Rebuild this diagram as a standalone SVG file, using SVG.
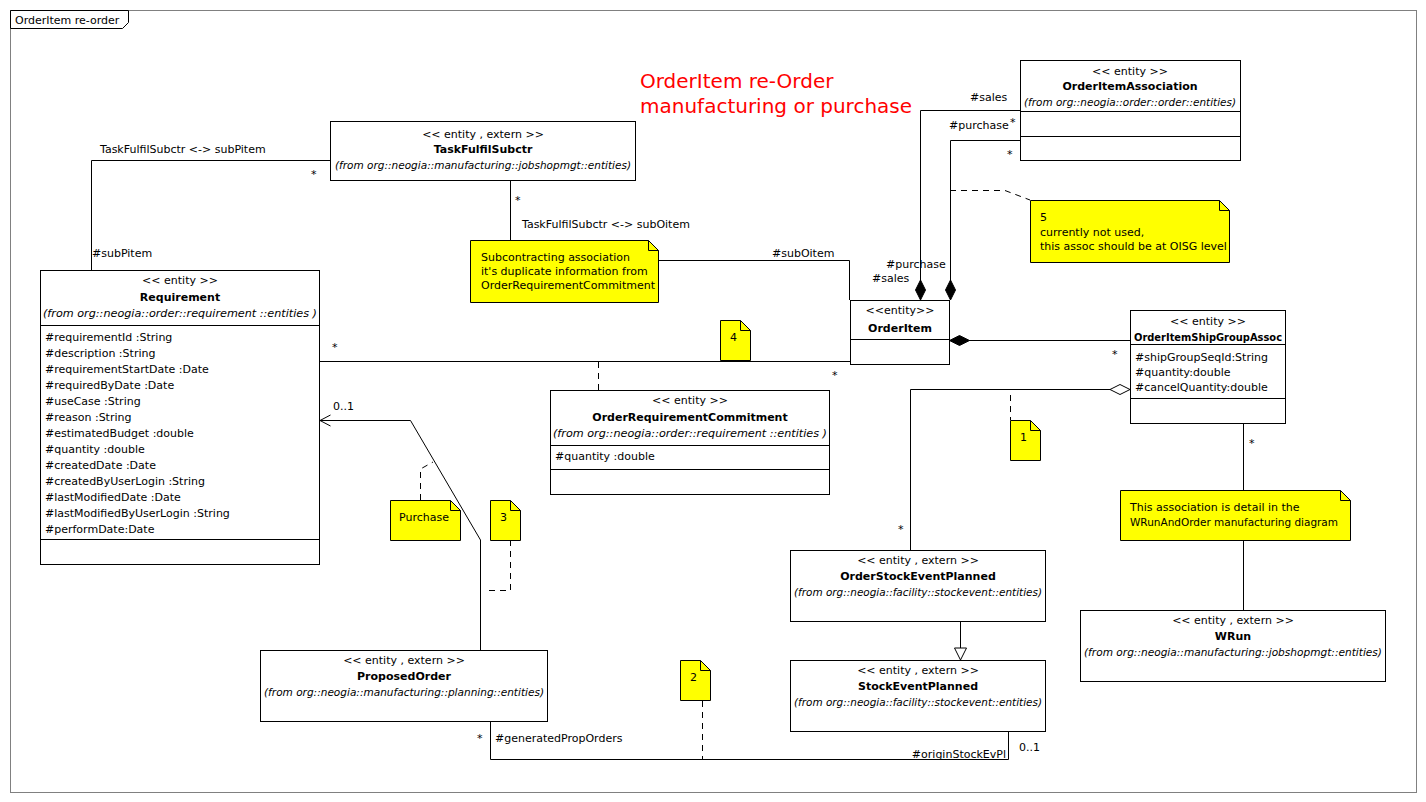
<svg xmlns="http://www.w3.org/2000/svg" width="1426" height="802" viewBox="0 0 1426 802">
<defs>
<style>
text{font-family:"DejaVu Sans","Liberation Sans",Arial,sans-serif;font-size:11px;fill:#000}
.c{text-anchor:middle}
.b{font-weight:bold}
.i{font-style:italic}
.r{text-anchor:end}
.box{fill:#fff;stroke:#000;stroke-width:1}
.note{fill:#ffff00;stroke:#000;stroke-width:1}
.ln{fill:none;stroke:#000;stroke-width:1}
.dash{fill:none;stroke:#000;stroke-width:1;stroke-dasharray:6,5}
.title{fill:#ff0000;font-size:20px}
</style>
</defs>
<rect x="0" y="0" width="1426" height="802" fill="#fff"/>
<g id="frame">
<rect x="10.5" y="10.5" width="1406" height="782" fill="none" stroke="#808080"/>
<path d="M10.5,10.5 H128.5 V22.5 L122.5,28.5 H10.5 Z" fill="#fff" stroke="#000"/>
<text x="15" y="24">OrderItem re-order</text>
</g>
<g id="title">
<text class="title" x="640" y="88">OrderItem re-Order</text>
<text class="title" x="640" y="113">manufacturing or purchase</text>
</g>
<g id="connectors">
<path class="ln" d="M91.5,270 V160.5 H330"/>
<text x="100" y="153">TaskFulfilSubctr &lt;-&gt; subPitem</text>
<text x="311" y="178">*</text>
<text x="92" y="257">#subPitem</text>
<path class="ln" d="M510.5,180 V260.5 H849.5 V300"/>
<text x="515" y="204">*</text>
<text x="522" y="228">TaskFulfilSubctr &lt;-&gt; subOitem</text>
<text x="772" y="257">#subOitem</text>
<path class="ln" d="M319,361.5 H850"/>
<text x="332" y="351">*</text>
<text x="832" y="379">*</text>
<path class="dash" d="M598.5,362 V390"/>
<path class="ln" d="M1020,110.5 H920.5 V281"/>
<path class="ln" d="M1020,140.5 H950.5 V281"/>
<polygon points="920.5,280 925.5,290 920.5,300 915.5,290" fill="#000" stroke="#000"/>
<polygon points="950.5,280 955.5,290 950.5,300 945.5,290" fill="#000" stroke="#000"/>
<text x="970" y="101">#sales</text>
<text x="949" y="129">#purchase</text>
<text x="1010" y="126">*</text>
<text x="1007" y="158">*</text>
<text x="886" y="268">#purchase</text>
<text x="872" y="282">#sales</text>
<path class="ln" d="M969,340.5 H1130"/>
<polygon points="949.5,340.5 959.5,335.5 969.5,340.5 959.5,345.5" fill="#000" stroke="#000"/>
<text x="1112" y="358">*</text>
<path class="ln" d="M1110,389.5 H910.5 V550"/>
<polygon points="1130,389.5 1120,384.5 1110,389.5 1120,394.5" fill="#fff" stroke="#000"/>
<text x="898" y="533">*</text>
<path class="dash" d="M1010.5,395 V420"/>
<path class="ln" d="M1243.5,423 V610"/>
<text x="1249" y="447">*</text>
<path class="ln" d="M960.5,621 V648"/>
<polygon points="954.5,648 966.5,648 960.5,660" fill="#fff" stroke="#000"/>
<path class="ln" d="M490.5,721 V759.5 H1008.5 V731"/>
<text x="477" y="742">*</text>
<text x="495" y="742">#generatedPropOrders</text>
<text class="r" x="1006" y="758">#originStockEvPl</text>
<text x="1019" y="751">0..1</text>
<path class="dash" d="M702.5,701 V759"/>
<path class="ln" d="M480.5,650 V540 L410.5,420.5 H320"/>
<path class="ln" d="M330.5,415 L320,420.5 L330.5,426"/>
<text x="333" y="410">0..1</text>
<path class="dash" d="M420.5,500 V469 L433,462"/>
<path class="dash" d="M510.5,540 V590.5 H485"/>
<path class="dash" d="M950,190.5 H1005 L1030,200"/>
</g>
<g id="TaskFulfilSubctr">
<rect class="box" x="330.5" y="121.5" width="305" height="59"/>
<text class="c" x="483" y="138">&lt;&lt; entity , extern &gt;&gt;</text>
<text class="c b" x="483" y="153">TaskFulfilSubctr</text>
<text class="c i" x="483" y="169" textLength="296" lengthAdjust="spacingAndGlyphs">(from org::neogia::manufacturing::jobshopmgt::entities)</text>
</g>
<g id="Requirement">
<rect class="box" x="40.5" y="270.5" width="279" height="294"/>
<line class="ln" x1="40" y1="325.5" x2="319" y2="325.5"/>
<line class="ln" x1="40" y1="539.5" x2="319" y2="539.5"/>
<text class="c" x="180" y="284">&lt;&lt; entity &gt;&gt;</text>
<text class="c b" x="180" y="301">Requirement</text>
<text class="c i" x="180" y="317" textLength="274" lengthAdjust="spacingAndGlyphs">(from org::neogia::order::requirement ::entities )</text>
<text x="45" y="341">#requirementId :String</text>
<text x="45" y="357">#description :String</text>
<text x="45" y="373">#requirementStartDate :Date</text>
<text x="45" y="389">#requiredByDate :Date</text>
<text x="45" y="405">#useCase :String</text>
<text x="45" y="421">#reason :String</text>
<text x="45" y="437">#estimatedBudget :double</text>
<text x="45" y="453">#quantity :double</text>
<text x="45" y="469">#createdDate :Date</text>
<text x="45" y="485">#createdByUserLogin :String</text>
<text x="45" y="501">#lastModifiedDate :Date</text>
<text x="45" y="517">#lastModifiedByUserLogin :String</text>
<text x="45" y="533">#performDate:Date</text>
</g>
<g id="OrderItemAssociation">
<rect class="box" x="1020.5" y="60.5" width="220" height="100"/>
<line class="ln" x1="1020" y1="111.5" x2="1240" y2="111.5"/>
<line class="ln" x1="1020" y1="136.5" x2="1240" y2="136.5"/>
<text class="c" x="1130" y="75">&lt;&lt; entity &gt;&gt;</text>
<text class="c b" x="1130" y="90">OrderItemAssociation</text>
<text class="c i" x="1130" y="106" textLength="212" lengthAdjust="spacingAndGlyphs">(from org::neogia::order::order::entities)</text>
</g>
<g id="OrderItem">
<rect class="box" x="850.5" y="300.5" width="99" height="64"/>
<line class="ln" x1="850" y1="339.5" x2="949" y2="339.5"/>
<text class="c" x="900" y="314">&lt;&lt;entity&gt;&gt;</text>
<text class="c b" x="900" y="332">OrderItem</text>
</g>
<g id="OrderItemShipGroupAssoc">
<rect class="box" x="1130.5" y="310.5" width="155" height="113"/>
<line class="ln" x1="1130" y1="344.5" x2="1285" y2="344.5"/>
<line class="ln" x1="1130" y1="398.5" x2="1285" y2="398.5"/>
<text class="c" x="1208" y="325">&lt;&lt; entity &gt;&gt;</text>
<text class="c b" x="1208" y="341" textLength="148" lengthAdjust="spacingAndGlyphs">OrderItemShipGroupAssoc</text>
<text x="1135" y="361">#shipGroupSeqId:String</text>
<text x="1135" y="376">#quantity:double</text>
<text x="1135" y="391">#cancelQuantity:double</text>
</g>
<g id="OrderRequirementCommitment">
<rect class="box" x="550.5" y="390.5" width="279" height="104"/>
<line class="ln" x1="550" y1="445.5" x2="829" y2="445.5"/>
<line class="ln" x1="550" y1="469.5" x2="829" y2="469.5"/>
<text class="c" x="690" y="404">&lt;&lt; entity &gt;&gt;</text>
<text class="c b" x="690" y="421">OrderRequirementCommitment</text>
<text class="c i" x="690" y="437" textLength="274" lengthAdjust="spacingAndGlyphs">(from org::neogia::order::requirement ::entities )</text>
<text x="555" y="460">#quantity :double</text>
</g>
<g id="OrderStockEventPlanned">
<rect class="box" x="790.5" y="550.5" width="255" height="71"/>
<text class="c" x="918" y="564">&lt;&lt; entity , extern &gt;&gt;</text>
<text class="c b" x="918" y="580">OrderStockEventPlanned</text>
<text class="c i" x="918" y="596" textLength="248" lengthAdjust="spacingAndGlyphs">(from org::neogia::facility::stockevent::entities)</text>
</g>
<g id="StockEventPlanned">
<rect class="box" x="790.5" y="660.5" width="255" height="71"/>
<text class="c" x="918" y="674">&lt;&lt; entity , extern &gt;&gt;</text>
<text class="c b" x="918" y="690">StockEventPlanned</text>
<text class="c i" x="918" y="706" textLength="248" lengthAdjust="spacingAndGlyphs">(from org::neogia::facility::stockevent::entities)</text>
</g>
<g id="WRun">
<rect class="box" x="1080.5" y="610.5" width="305" height="71"/>
<text class="c" x="1233" y="624">&lt;&lt; entity , extern &gt;&gt;</text>
<text class="c b" x="1233" y="640">WRun</text>
<text class="c i" x="1233" y="656" textLength="298" lengthAdjust="spacingAndGlyphs">(from org::neogia::manufacturing::jobshopmgt::entities)</text>
</g>
<g id="ProposedOrder">
<rect class="box" x="260.5" y="650.5" width="287" height="71"/>
<text class="c" x="404" y="664">&lt;&lt; entity , extern &gt;&gt;</text>
<text class="c b" x="404" y="680">ProposedOrder</text>
<text class="c i" x="404" y="696" textLength="280" lengthAdjust="spacingAndGlyphs">(from org::neogia::manufacturing::planning::entities)</text>
</g>
<g id="note-subcontracting">
<path class="note" d="M470.5,240.5 H648.5 L658.5,250.5 V302.5 H470.5 Z"/>
<path class="ln" d="M648.5,240.5 V250.5 H658.5"/>
<text x="481" y="261">Subcontracting association</text>
<text x="481" y="275">it's duplicate information from</text>
<text x="481" y="289">OrderRequirementCommitment</text>
</g>
<g id="note-4">
<path class="note" d="M720.5,320.5 H740.5 L750.5,330.5 V360.5 H720.5 Z"/>
<path class="ln" d="M740.5,320.5 V330.5 H750.5"/>
<text x="730" y="341">4</text>
</g>
<g id="note-5">
<path class="note" d="M1030.5,200.5 H1219.5 L1229.5,210.5 V262.5 H1030.5 Z"/>
<path class="ln" d="M1219.5,200.5 V210.5 H1229.5"/>
<text x="1040" y="221">5</text>
<text x="1040" y="236">currently not used,</text>
<text x="1040" y="250">this assoc should be at OISG level</text>
</g>
<g id="note-1">
<path class="note" d="M1010.5,420.5 H1030.5 L1040.5,430.5 V460.5 H1010.5 Z"/>
<path class="ln" d="M1030.5,420.5 V430.5 H1040.5"/>
<text x="1020" y="441">1</text>
</g>
<g id="note-wrun">
<path class="note" d="M1120.5,490.5 H1340.5 L1350.5,500.5 V540.5 H1120.5 Z"/>
<path class="ln" d="M1340.5,490.5 V500.5 H1350.5"/>
<text x="1130" y="511">This association is detail in the</text>
<text x="1130" y="526" textLength="208" lengthAdjust="spacingAndGlyphs">WRunAndOrder manufacturing diagram</text>
</g>
<g id="note-purchase">
<path class="note" d="M390.5,500.5 H450.5 L460.5,510.5 V540.5 H390.5 Z"/>
<path class="ln" d="M450.5,500.5 V510.5 H460.5"/>
<text class="c" x="424" y="521">Purchase</text>
</g>
<g id="note-3">
<path class="note" d="M490.5,500.5 H510.5 L520.5,510.5 V540.5 H490.5 Z"/>
<path class="ln" d="M510.5,500.5 V510.5 H520.5"/>
<text x="500" y="521">3</text>
</g>
<g id="note-2">
<path class="note" d="M680.5,660.5 H700.5 L710.5,670.5 V700.5 H680.5 Z"/>
<path class="ln" d="M700.5,660.5 V670.5 H710.5"/>
<text x="690" y="681">2</text>
</g>
</svg>
